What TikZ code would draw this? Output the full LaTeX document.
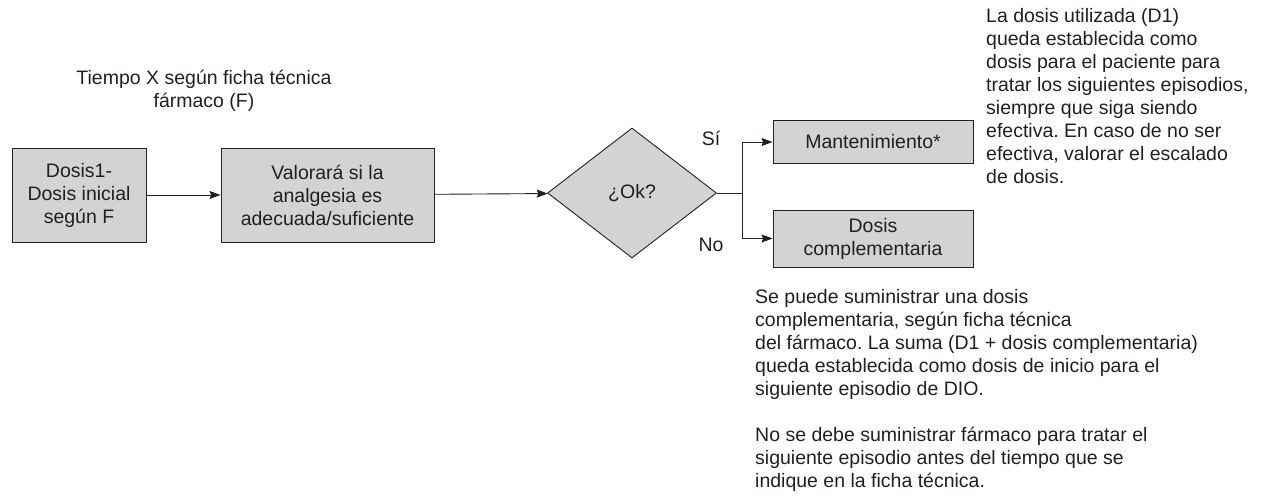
\documentclass[tikz,border=0pt]{standalone}
\usepackage{fontspec}
\setmainfont{Liberation Sans}
\usepackage{tikz}
\usetikzlibrary{arrows.meta}
\usetikzlibrary{shapes.geometric}
\definecolor{boxgray}{HTML}{D1D3D4}
\definecolor{ink}{HTML}{231F20}
\frenchspacing

\begin{document}
\begin{tikzpicture}[x=1pt,y=1pt,
		every node/.style={text=ink, font=\fontsize{19.5}{23}\selectfont},
		box/.style={draw=ink, fill=boxgray, line width=0.9pt, inner sep=0pt, align=center},
		flow/.style={-{Stealth[length=11pt,width=8pt,inset=1.5pt]}, draw=ink, line width=0.9pt},
		note/.style={align=left, inner sep=0pt}]
		\useasboundingbox (0,0) rectangle (1284,-502);
		\node[box, minimum width=134pt, minimum height=94pt] (dose1) at (79,-195) {Dosis1-\\Dosis inicial\\según F};
		\node[box, minimum width=213pt, minimum height=94pt] (assess) at (327.5,-195) {Valorará si la\\analgesia es\\adecuada/suficiente};
		\node[box, diamond, minimum width=169pt, minimum height=130pt] (ok) at (632,-193) {¿Ok?};
		\node[box, minimum width=200pt, minimum height=43pt] (maint) at (873,-142) {Mantenimiento*};
		\node[box, minimum width=200pt, minimum height=57pt] (extra) at (873,-238.5) {Dosis\\complementaria};
		\coordinate (split) at (742,-193);
		\draw[flow] (dose1) to (assess);
		\draw[flow] (assess) to (ok);
		\draw[draw=ink, line width=0.9pt] (ok.east) to (split);
		\draw[flow] (split) |- (maint.west);
		\draw[flow] (split) |- (extra.west);
		\node (yes) at (711,-138) {Sí};
		\node (no) at (711,-245) {No};
		\node[align=center, inner sep=0pt] (time) at (204,-91) {Tiempo X según ficha técnica\\fármaco (F)};
		\node[note, anchor=north west] (maintnote) at (986,-8) {La dosis utilizada (D1)\\queda establecida como\\dosis para el paciente para\\tratar los siguientes episodios,\\siempre que siga siendo\\efectiva. En caso de no ser\\efectiva, valorar el escalado\\de dosis.};
		\node[note, anchor=north west] (extranote) at (755,-289) {Se puede suministrar una dosis\\complementaria, según ficha técnica\\del fármaco. La suma (D1 + dosis complementaria)\\queda establecida como dosis de inicio para el\\siguiente episodio de DIO.\\[23pt]No se debe suministrar fármaco para tratar el\\siguiente episodio antes del tiempo que se\\indique en la ficha técnica.};
		
		\end{tikzpicture}
\end{document}
